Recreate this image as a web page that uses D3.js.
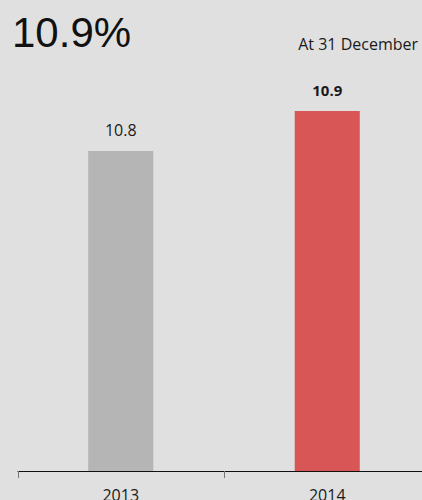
<!DOCTYPE html>
<html><head><meta charset="utf-8">
<script src="https://cdn.jsdelivr.net/npm/d3@7"></script>
<style>html,body{margin:0;padding:0;background:#e0e0e0;overflow:hidden}</style>
</head><body><svg id="c" width="422" height="500"></svg>
<script>
const categories = ["2013", "2014"];
const values = [10.8, 10.9];
const valueLabels = ["10.8", "10.9"];
const headline = "10.9%";
const note = "At 31 December";
const yDomain = [10, 11];

const svg = d3.select("#c");
svg.append("rect").attr("width", 422).attr("height", 500).attr("fill", "#e0e0e0");

const x = d3.scaleBand().domain(categories).range([17.5, 430.5]).padding(0);
const y = d3.scaleLinear().domain(yDomain).range([471, 71]);
const barW = x.bandwidth() * 0.315;
const colors = ["#b5b5b5", "#d95656"];

svg.selectAll("rect.bar").data(values).join("rect")
  .attr("class", "bar")
  .attr("x", (d, i) => x(categories[i]) + x.bandwidth() / 2 - barW / 2)
  .attr("width", barW)
  .attr("y", d => y(d))
  .attr("height", d => y(yDomain[0]) - y(d))
  .attr("fill", (d, i) => colors[i]);

svg.selectAll("text.vl").data(values).join("text")
  .attr("class", "vl")
  .attr("x", (d, i) => x(categories[i]) + x.bandwidth() / 2)
  .attr("y", d => y(d) - 15.5)
  .attr("text-anchor", "middle")
  .attr("font-family", "'Open Sans', sans-serif")
  .attr("font-size", (d, i) => i === 1 ? 15 : 16)
  .attr("font-weight", (d, i) => i === 1 ? "bold" : "normal")
  .attr("fill", "#1a1a1a")
  .text((d, i) => valueLabels[i]);

// axis
const axisG = svg.append("g");
axisG.append("line").attr("x1", 17.5).attr("x2", 422).attr("y1", 471.5).attr("y2", 471.5)
  .attr("stroke", "#111").attr("stroke-width", 1);
const tickPos = categories.map(c => x(c));
axisG.selectAll("line.tick").data(tickPos).join("line")
  .attr("class", "tick")
  .attr("x1", d => Math.round(d) + 0.5).attr("x2", d => Math.round(d) + 0.5)
  .attr("y1", 471).attr("y2", 478)
  .attr("stroke", "#777");
axisG.selectAll("text.cat").data(categories).join("text")
  .attr("class", "cat")
  .attr("x", d => x(d) + x.bandwidth() / 2)
  .attr("y", 501)
  .attr("text-anchor", "middle")
  .attr("font-family", "'Open Sans', sans-serif")
  .attr("font-size", 16)
  .attr("fill", "#1a1a1a")
  .text(d => d);

svg.append("text").attr("x", 12).attr("y", 47)
  .attr("font-family", "'Liberation Sans', Arial, sans-serif")
  .attr("font-size", 42).attr("fill", "#111").text(headline);

svg.append("text").attr("x", 418).attr("y", 50).attr("text-anchor", "end")
  .attr("font-family", "'Open Sans', sans-serif")
  .attr("font-size", 16).attr("fill", "#1a1a1a").text(note);
</script></body></html>
